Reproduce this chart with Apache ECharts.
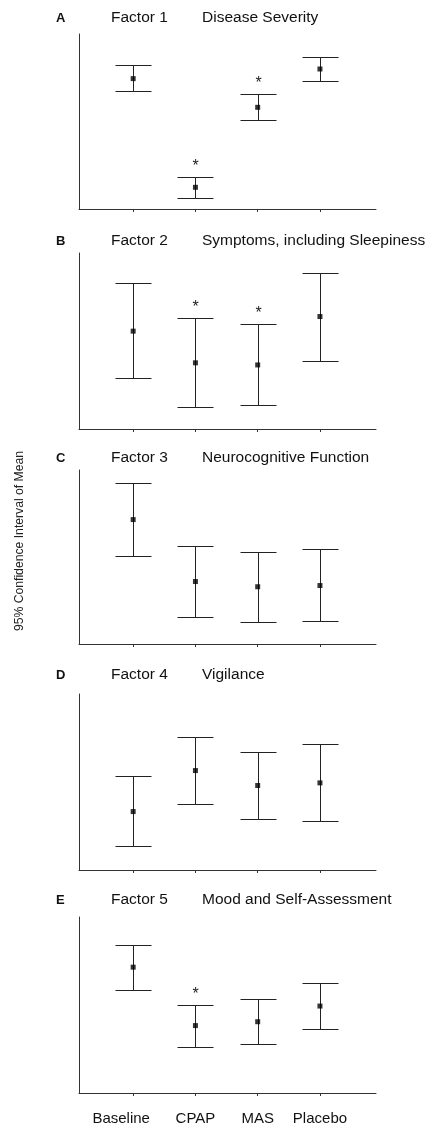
<!DOCTYPE html>
<html>
<head>
<meta charset="utf-8">
<script src="https://cdn.jsdelivr.net/npm/echarts@6/dist/echarts.min.js"></script>
<style>
html,body{margin:0;padding:0;background:#fff;}
#chart{width:432px;height:1126px;}
</style>
</head>
<body>
<div id="chart"></div>
<script>
// ---- data (arbitrary units: 0 = x axis, 100 = top of y axis) ----
const categories = ['Baseline', 'CPAP', 'MAS', 'Placebo'];
const panelLetters = ['A', 'B', 'C', 'D', 'E'];
const factorNames = ['Factor 1', 'Factor 2', 'Factor 3', 'Factor 4', 'Factor 5'];
const factorTitles = ['Disease Severity', 'Symptoms, including Sleepiness', 'Neurocognitive Function', 'Vigilance', 'Mood and Self-Assessment'];
const yAxisTitle = '95% Confidence Interval of Mean';

const means = [
  [74.5, 12.4, 58.1, 80.0],
  [55.6, 37.6, 36.4, 63.9],
  [71.5, 35.9, 32.9, 33.6],
  [33.2, 56.5, 48.0, 49.5],
  [71.5, 38.3, 40.5, 49.4]
];
const lows = [
  [67.4, 6.5, 50.9, 73.3],
  [29.0, 12.5, 13.5, 38.9],
  [50.5, 15.3, 12.4, 13.2],
  [13.5, 37.4, 28.9, 27.9],
  [58.6, 26.4, 27.9, 36.4]
];
const highs = [
  [82.1, 18.1, 65.5, 86.7],
  [82.7, 62.8, 59.9, 88.8],
  [92.4, 56.2, 53.1, 54.5],
  [53.3, 75.5, 67.0, 71.5],
  [84.1, 49.8, 53.5, 62.4]
];
const significant = [
  [0, 1, 1, 0],
  [0, 1, 1, 0],
  [0, 0, 0, 0],
  [0, 0, 0, 0],
  [0, 1, 0, 0]
];

// ---- layout ----
const gridTops = [34, 253, 470, 694, 917];
const gridHeights = [175, 176, 174, 176, 176];
const titleY = [18, 241, 458, 675, 900];
const catPos = categories.map((c, i) => i + 1);
const tf = 'Liberation Sans, Arial, sans-serif';

const grids = [], xAxes = [], yAxes = [], series = [], graphics = [];

panelLetters.forEach((letter, p) => {
  grids.push({ left: 79, width: 297, top: gridTops[p], height: gridHeights[p] });
  xAxes.push({
    type: 'value', gridIndex: p, min: 0.13, max: 4.9,
    axisLine: { show: true, onZero: false, lineStyle: { color: '#333', width: 1 } },
    axisTick: { show: true, customValues: catPos, length: 3, inside: false, lineStyle: { color: '#333' } },
    axisLabel: {
      show: p === 4, customValues: catPos, margin: 18,
      fontFamily: tf, fontSize: 15, color: '#111',
      formatter: v => {
        const name = categories[Math.round(v) - 1];
        return Math.round(v) === 1 ? '{b|' + name + '}' : name;
      },
      rich: { b: { fontFamily: tf, fontSize: 15, color: '#111', padding: [0, 24, 0, 0] } }
    },
    splitLine: { show: false }
  });
  yAxes.push({
    type: 'value', gridIndex: p, min: 0, max: 100,
    axisLine: { show: true, onZero: false, lineStyle: { color: '#333', width: 1 } },
    axisTick: { show: false }, axisLabel: { show: false }, splitLine: { show: false }
  });

  const ebData = categories.map((c, i) => [catPos[i], lows[p][i], highs[p][i], significant[p][i]]);
  series.push({
    type: 'custom', xAxisIndex: p, yAxisIndex: p, data: ebData, silent: true,
    renderItem: (params, api) => {
      const x = api.value(0), lo = api.value(1), hi = api.value(2), sig = api.value(3);
      const pHi = api.coord([x, hi]);
      const pLo = api.coord([x, lo]);
      const cx = Math.round(pHi[0]) + 0.5;
      const yT = Math.round(pHi[1]) + 0.5;
      const yB = Math.round(pLo[1]) + 0.5;
      const hw = 18;
      const st = { stroke: '#222', lineWidth: 1 };
      const children = [
        { type: 'line', shape: { x1: cx, y1: yT, x2: cx, y2: yB }, style: st },
        { type: 'line', shape: { x1: cx - hw, y1: yT, x2: cx + hw, y2: yT }, style: st },
        { type: 'line', shape: { x1: cx - hw, y1: yB, x2: cx + hw, y2: yB }, style: st }
      ];
      if (sig) {
        children.push({
          type: 'text',
          style: { x: cx, y: yT - 11, text: '*', align: 'center', verticalAlign: 'middle',
                   fontFamily: tf, fontSize: 16, fill: '#222' }
        });
      }
      return { type: 'group', children };
    }
  });
  series.push({
    type: 'scatter', xAxisIndex: p, yAxisIndex: p, silent: true,
    symbol: 'rect', symbolSize: 5, itemStyle: { color: '#000' },
    data: categories.map((c, i) => [catPos[i], means[p][i]]), z: 5
  });

  graphics.push({ type: 'text', x: 56, y: titleY[p], style: { text: letter, fontFamily: tf, fontWeight: 'bold', fontSize: 13, fill: '#111', verticalAlign: 'middle' } });
  graphics.push({ type: 'text', x: 111, y: titleY[p], style: { text: factorNames[p], fontFamily: tf, fontSize: 15.5, fill: '#111', verticalAlign: 'middle' } });
  graphics.push({ type: 'text', x: 202, y: titleY[p], style: { text: factorTitles[p], fontFamily: tf, fontSize: 15.5, fill: '#111', verticalAlign: 'middle' } });
});

graphics.push({
  type: 'text', x: 20, y: 541, rotation: Math.PI / 2,
  style: { text: yAxisTitle, fontFamily: tf, fontSize: 12.2, fill: '#222', align: 'center', verticalAlign: 'middle' }
});

const chart = echarts.init(document.getElementById('chart'), null, { renderer: 'canvas' });
chart.setOption({
  animation: false,
  backgroundColor: '#fff',
  grid: grids, xAxis: xAxes, yAxis: yAxes, series: series, graphic: graphics
});
</script>
</body>
</html>
